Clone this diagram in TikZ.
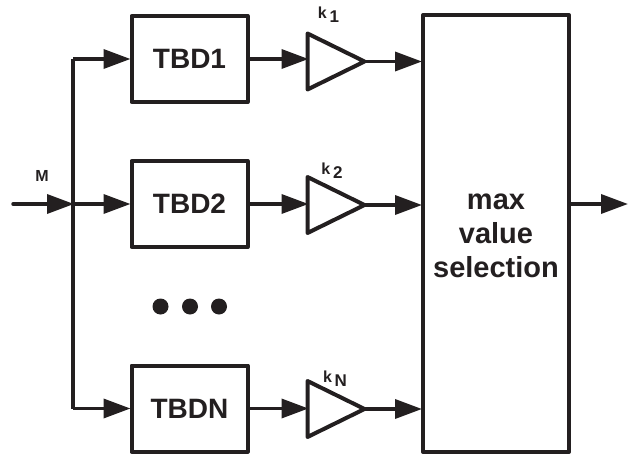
\documentclass[tikz,border=0pt]{standalone}
\usepackage{fontspec}
\setmainfont{Liberation Sans}
\usetikzlibrary{arrows.meta,shapes.geometric}
\definecolor{ink}{HTML}{231F20}
\tikzset{
line/.style={draw=ink,line width=4pt,line join=round},
flow/.style={draw=ink,line width=3.5pt,-{Triangle[length=27pt,width=19pt]},shorten >=-1pt},
block/.style={line,rectangle,inner sep=0pt,minimum width=116pt,minimum height=86pt,font=\fontsize{28}{34}\bfseries,text=ink},
amp/.style={line,isosceles triangle,isosceles triangle apex angle=54,isosceles triangle stretches,shape border rotate=0,inner sep=0pt,outer sep=0pt,minimum width=56pt,minimum height=57pt,anchor=west},
tag/.style={font=\fontsize{16}{18}\bfseries,text=ink,inner sep=0pt},
dot/.style={circle,fill=ink,inner sep=0pt,minimum size=16pt}
}
\providecommand{\TbdRow}[5]{
\node[block] (tbd#1) at (189.5,#2) {TBD#3};
\node[amp] (amp#1) at (307.5,#4) {};
\node[tag] (gain#1) at #5 {k\,\raisebox{-4pt}{\fontsize{17}{18}\bfseries #3}};
}
\begin{document}
\begin{tikzpicture}[x=1pt,y=-1pt]
\useasboundingbox (0,0) rectangle (632,455);
\TbdRow{a}{59}{1}{61.5}{(328.5,15)}
\TbdRow{b}{204}{2}{205}{(332,171)}
\TbdRow{c}{408.5}{N}{409}{(335,379)}
\node[block,minimum width=146pt,minimum height=437pt] (sel) at (496,233.5) {};
\node[font=\fontsize{29}{34}\bfseries,text=ink,align=center,inner sep=0pt] (seltext) at (496,235.5) {max\\value\\selection};
\coordinate (in) at (13,204);
\coordinate (junction) at (73,204);
\coordinate (out) at (627,204);
\node[tag] (m) at (42,176) {M};
\node[dot] (dota) at (160.5,306.5) {};
\node[dot] (dotb) at (190,306.5) {};
\node[dot] (dotc) at (219,306.5) {};
\draw[flow,line cap=round] (in) -- (junction);
\draw[line] (tbda.west -| junction) -- (tbdc.west -| junction);
\draw[flow] (tbda.west -| junction) -- (tbda.west);
\draw[flow] (junction) -- (tbdb.west);
\draw[flow] (tbdc.west -| junction) -- (tbdc.west);
\foreach \row in {a,b,c}{
\draw[flow] (tbd\row.east) -- (tbd\row.east -| amp\row.west);
\draw[flow] (amp\row.east) -- (amp\row.east -| sel.west);
}
\draw[flow] (sel.east |- junction) -- (out);
\end{tikzpicture}
\end{document}
